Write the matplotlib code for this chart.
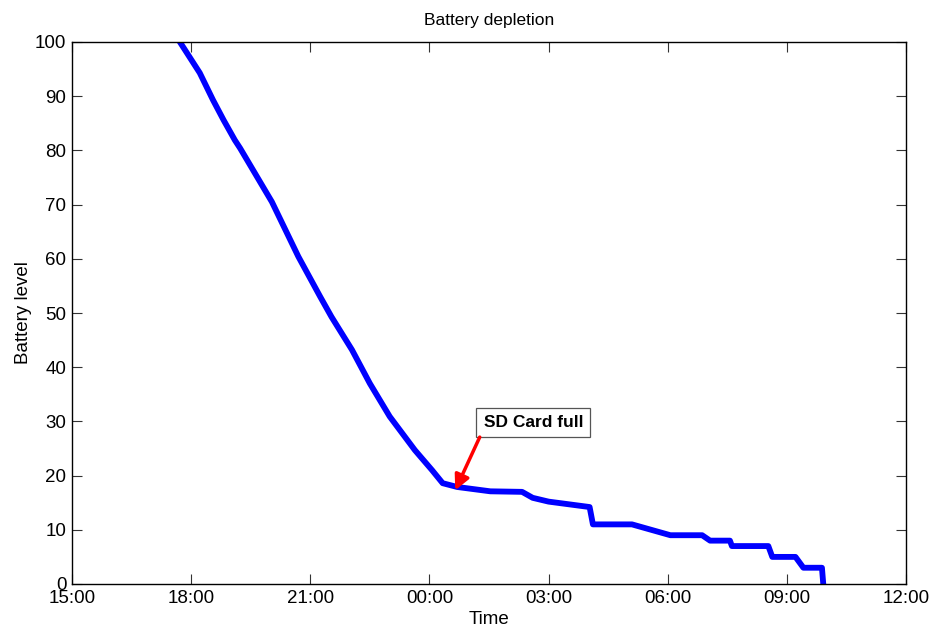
import datetime as dt
import matplotlib
matplotlib.use("Agg")
import matplotlib.pyplot as plt

# Data (clock times, next day when hour < 15)
times = ["17:43", "18:13", "18:33", "18:49", "19:06", "19:14", "20:02", "20:42", "21:15",
         "21:32", "22:03", "22:30", "23:00", "23:38", "00:04", "00:20", "00:42",
         "01:32", "02:20", "02:36", "03:00", "04:02", "04:07", "05:06",
         "06:04", "06:52", "07:04", "07:34", "07:37", "08:32", "08:38", "09:13",
         "09:25", "09:53", "09:55"]
levels = [100, 94.3, 89.3, 85.6, 81.9, 80.4, 70.5, 60.4, 53,
          49.3, 43.2, 37, 30.9, 24.7, 21, 18.6, 17.9,
          17.1, 17, 15.9, 15.2, 14.2, 11, 11,
          9, 9, 8, 8, 7, 7, 5, 5,
          3, 3, 0]
xticks = ["15:00", "18:00", "21:00", "00:00", "03:00", "06:00", "09:00", "12:00"]
yticks = [0, 10, 20, 30, 40, 50, 60, 70, 80, 90, 100]
note_text = "SD Card full"
note_xy = ("00:39", 17.3)
note_from = ("01:16", 27.1)
note_pos = ("01:22", 28.4)

base = dt.datetime(2013, 1, 1)


def to_dt(s):
    h, m = map(int, s.split(":"))
    d = base + dt.timedelta(hours=h, minutes=m)
    if h < 15:
        d += dt.timedelta(days=1)
    return d


xs = [to_dt(t) for t in times]
xt = [to_dt(t) for t in xticks]

plt.rcParams['font.family'] = ['Liberation Sans', 'DejaVu Sans']

fig = plt.figure(figsize=(9.31, 6.28), dpi=100)
ax = fig.add_axes([72 / 931, 44 / 628, 834 / 931, 542 / 628])

ax.plot(xs, levels, color="#0000ff", linewidth=4.2, solid_joinstyle="round")

ax.set_xlim(xt[0], xt[-1])
ax.set_ylim(0, 100)
ax.set_xticks(xt)
ax.set_xticklabels(xticks)
ax.set_yticks(yticks)
ax.tick_params(direction="in", length=7, width=0.8, top=True, right=True,
               labelsize=13.5, pad=4, color="#333333")
for sp in ax.spines.values():
    sp.set_linewidth(1.0)

ax.set_title("Battery depletion", fontsize=12.5, pad=12)
ax.set_xlabel("Time", fontsize=13.5, labelpad=3)
ax.set_ylabel("Battery level", fontsize=13.5, labelpad=2)

ax.text(to_dt(note_pos[0]), note_pos[1], note_text, fontsize=12.5,
        fontweight="bold", ha="left", va="bottom",
        bbox=dict(boxstyle="square,pad=0.42", fc="white", ec="#555555", lw=0.9))
ax.annotate("", xy=(to_dt(note_xy[0]), note_xy[1]),
            xytext=(to_dt(note_from[0]), note_from[1]),
            arrowprops=dict(arrowstyle="-|>,head_length=0.9,head_width=0.45",
                            color="red", lw=2.5, shrinkA=0, shrinkB=0))

fig.savefig("out.png", dpi=100)
